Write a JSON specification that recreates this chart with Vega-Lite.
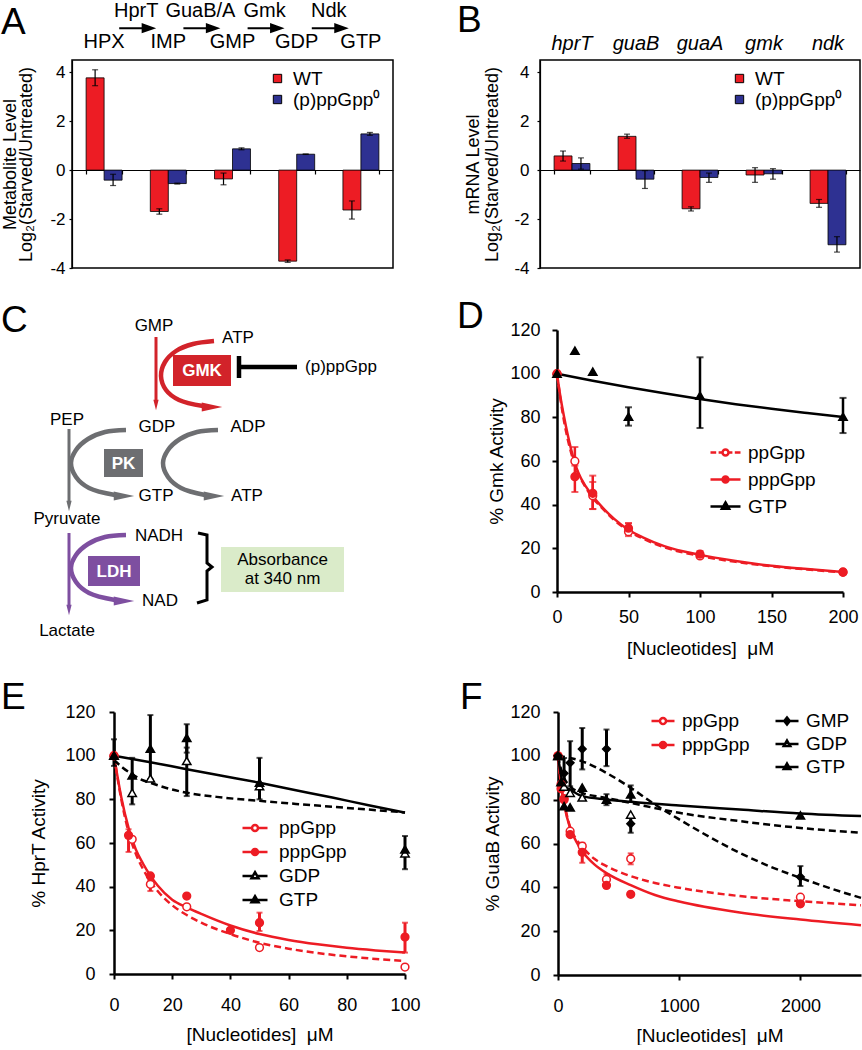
{
"$schema": "https://vega.github.io/schema/vega-lite/v6.json",
"padding": 0,
"autosize": {"type": "pad"},
"background": "#ffffff",
"config": {
  "font": "Liberation Sans",
  "view": {"stroke": null},
  "axis": {"grid": false, "domainColor": "#000", "tickColor": "#000", "labelColor": "#000", "titleColor": "#000", "titleFontWeight": "normal", "labelFontSize": 18, "titleFontSize": 19, "domainWidth": 2.5, "tickWidth": 2, "tickSize": 5, "labelPadding": 9, "titlePadding": 10, "labelFlush": false, "labelOverlap": false},
  "legend": {"labelColor": "#000", "labelFontSize": 19, "symbolOpacity": 1, "title": null},
  "title": {"color": "#000", "fontWeight": "normal", "fontSize": 37, "anchor": "start", "frame": "group", "baseline": "alphabetic"},
  "text": {"color": "#000"}
},
"datasets": {
  "metab": [
    {"cat":"HPX","strain":"WT","value":3.77,"lo":3.45,"hi":4.1},
    {"cat":"HPX","strain":"(p)ppGpp⁰","value":-0.41,"lo":-0.63,"hi":-0.17},
    {"cat":"IMP","strain":"WT","value":-1.69,"lo":-1.8,"hi":-1.58},
    {"cat":"IMP","strain":"(p)ppGpp⁰","value":-0.55,"lo":-0.57,"hi":-0.53},
    {"cat":"GMP","strain":"WT","value":-0.36,"lo":-0.6,"hi":-0.12},
    {"cat":"GMP","strain":"(p)ppGpp⁰","value":0.87,"lo":0.83,"hi":0.91},
    {"cat":"GDP","strain":"WT","value":-3.72,"lo":-3.77,"hi":-3.67},
    {"cat":"GDP","strain":"(p)ppGpp⁰","value":0.65,"lo":0.64,"hi":0.66},
    {"cat":"GTP","strain":"WT","value":-1.63,"lo":-2.0,"hi":-1.26},
    {"cat":"GTP","strain":"(p)ppGpp⁰","value":1.48,"lo":1.42,"hi":1.54}
  ],
  "enzymes": [{"enz":"HprT"},{"enz":"GuaB/A"},{"enz":"Gmk"},{"enz":"Ndk"}],
  "mrna": [
    {"gene":"hprT","strain":"WT","value":0.58,"lo":0.37,"hi":0.78},
    {"gene":"hprT","strain":"(p)ppGpp⁰","value":0.27,"lo":0.04,"hi":0.5},
    {"gene":"guaB","strain":"WT","value":1.38,"lo":1.3,"hi":1.47},
    {"gene":"guaB","strain":"(p)ppGpp⁰","value":-0.37,"lo":-0.75,"hi":-0.02},
    {"gene":"guaA","strain":"WT","value":-1.58,"lo":-1.67,"hi":-1.5},
    {"gene":"guaA","strain":"(p)ppGpp⁰","value":-0.3,"lo":-0.5,"hi":-0.12},
    {"gene":"gmk","strain":"WT","value":-0.2,"lo":-0.5,"hi":0.1},
    {"gene":"gmk","strain":"(p)ppGpp⁰","value":-0.15,"lo":-0.37,"hi":0.06},
    {"gene":"ndk","strain":"WT","value":-1.36,"lo":-1.52,"hi":-1.2},
    {"gene":"ndk","strain":"(p)ppGpp⁰","value":-3.05,"lo":-3.35,"hi":-2.72}
  ],
  "cBoxes": [
    {"grp":"GMK","x":172,"x2":230,"y":356,"y2":387},
    {"grp":"PK","x":103,"x2":142,"y":450,"y2":478},
    {"grp":"LDH","x":87,"x2":139,"y":557,"y2":587},
    {"grp":"abs","x":220,"x2":343,"y":548,"y2":593}
  ],
  "cLines": [
    {"id":"gmkDown","grp":"GMK","i":0,"x":155,"y":338},{"id":"gmkDown","grp":"GMK","i":1,"x":155,"y":401},
    {"id":"gmkCurve","grp":"GMK","i":0,"x":213,"y":342},{"id":"gmkCurve","grp":"GMK","i":1,"x":192,"y":345},{"id":"gmkCurve","grp":"GMK","i":2,"x":175,"y":352},{"id":"gmkCurve","grp":"GMK","i":3,"x":164,"y":363},{"id":"gmkCurve","grp":"GMK","i":4,"x":160,"y":377},{"id":"gmkCurve","grp":"GMK","i":5,"x":165,"y":391},{"id":"gmkCurve","grp":"GMK","i":6,"x":178,"y":401},{"id":"gmkCurve","grp":"GMK","i":7,"x":202,"y":407},
    {"id":"pepDown","grp":"PK","i":0,"x":68,"y":430},{"id":"pepDown","grp":"PK","i":1,"x":68,"y":502},
    {"id":"pkCurve1","grp":"PK","i":0,"x":125,"y":431},{"id":"pkCurve1","grp":"PK","i":1,"x":104,"y":433},{"id":"pkCurve1","grp":"PK","i":2,"x":87,"y":440},{"id":"pkCurve1","grp":"PK","i":3,"x":75,"y":451},{"id":"pkCurve1","grp":"PK","i":4,"x":70,"y":464},{"id":"pkCurve1","grp":"PK","i":5,"x":75,"y":478},{"id":"pkCurve1","grp":"PK","i":6,"x":88,"y":489},{"id":"pkCurve1","grp":"PK","i":7,"x":114,"y":496},
    {"id":"pkCurve2","grp":"PK","i":0,"x":217,"y":431},{"id":"pkCurve2","grp":"PK","i":1,"x":196,"y":433},{"id":"pkCurve2","grp":"PK","i":2,"x":179,"y":440},{"id":"pkCurve2","grp":"PK","i":3,"x":167,"y":451},{"id":"pkCurve2","grp":"PK","i":4,"x":162,"y":464},{"id":"pkCurve2","grp":"PK","i":5,"x":167,"y":478},{"id":"pkCurve2","grp":"PK","i":6,"x":180,"y":489},{"id":"pkCurve2","grp":"PK","i":7,"x":204,"y":496},
    {"id":"pyrDown","grp":"LDH","i":0,"x":68,"y":534},{"id":"pyrDown","grp":"LDH","i":1,"x":68,"y":606},
    {"id":"ldhCurve","grp":"LDH","i":0,"x":125,"y":536},{"id":"ldhCurve","grp":"LDH","i":1,"x":104,"y":538},{"id":"ldhCurve","grp":"LDH","i":2,"x":87,"y":545},{"id":"ldhCurve","grp":"LDH","i":3,"x":75,"y":556},{"id":"ldhCurve","grp":"LDH","i":4,"x":70,"y":569},{"id":"ldhCurve","grp":"LDH","i":5,"x":75,"y":583},{"id":"ldhCurve","grp":"LDH","i":6,"x":88,"y":594},{"id":"ldhCurve","grp":"LDH","i":7,"x":114,"y":601},
    {"id":"inhibLine","grp":"inh","i":0,"x":239,"y":368},{"id":"inhibLine","grp":"inh","i":1,"x":296,"y":368},
    {"id":"inhibBar","grp":"inh","i":0,"x":238,"y":357},{"id":"inhibBar","grp":"inh","i":1,"x":238,"y":379},
    {"id":"bracket","grp":"inh","i":0,"x":197,"y":534},{"id":"bracket","grp":"inh","i":1,"x":206,"y":536},{"id":"bracket","grp":"inh","i":2,"x":206,"y":564},{"id":"bracket","grp":"inh","i":3,"x":211,"y":568},{"id":"bracket","grp":"inh","i":4,"x":206,"y":572},{"id":"bracket","grp":"inh","i":5,"x":206,"y":601},{"id":"bracket","grp":"inh","i":6,"x":196,"y":604}
  ],
  "cHeads": [
    {"grp":"GMK","dir":"right","x":211,"y":408},
    {"grp":"PK","dir":"right","x":123,"y":497},
    {"grp":"PK","dir":"right","x":213,"y":497},
    {"grp":"LDH","dir":"right","x":123,"y":602},
    {"grp":"GMK","dir":"down","x":155,"y":406},
    {"grp":"PK","dir":"down","x":68,"y":507},
    {"grp":"LDH","dir":"down","x":68,"y":611}
  ],
  "cText": [
    {"label":"GMP","kind":"plain","x":153,"y":327},
    {"label":"ATP","kind":"plain","x":237,"y":339},
    {"label":"(p)ppGpp","kind":"plain","x":340,"y":368},
    {"label":"PEP","kind":"plain","x":66,"y":421},
    {"label":"GDP","kind":"plain","x":156,"y":428},
    {"label":"ADP","kind":"plain","x":247,"y":428},
    {"label":"GTP","kind":"plain","x":155,"y":497},
    {"label":"ATP","kind":"plain","x":246,"y":497},
    {"label":"Pyruvate","kind":"plain","x":66,"y":520},
    {"label":"NADH","kind":"plain","x":158,"y":537},
    {"label":"NAD","kind":"plain","x":159,"y":602},
    {"label":"Lactate","kind":"plain","x":66,"y":632},
    {"label":"Absorbance","kind":"plain","x":281.5,"y":561},
    {"label":"at 340 nm","kind":"plain","x":281.5,"y":580},
    {"label":"GMK","kind":"box","x":201,"y":372},
    {"label":"PK","kind":"box","x":122.5,"y":464.5},
    {"label":"LDH","kind":"box","x":113,"y":572.5}
  ],
  "ptsD": [
    {"series":"ppGpp","x":0,"y":100},
    {"series":"ppGpp","x":12.5,"y":59.9,"lo":57.9,"hi":66.4},
    {"series":"ppGpp","x":25,"y":44.1,"lo":38,"hi":50.4},
    {"series":"ppGpp","x":50,"y":27.6,"lo":25.6,"hi":31.5},
    {"series":"ppGpp","x":100,"y":16.5},
    {"series":"ppGpp","x":200,"y":9},
    {"series":"pppGpp","x":0,"y":100},
    {"series":"pppGpp","x":12.5,"y":52.8,"lo":45.8,"hi":59.5},
    {"series":"pppGpp","x":25,"y":45.2,"lo":38,"hi":53.3},
    {"series":"pppGpp","x":50,"y":29.2,"lo":27,"hi":31.5},
    {"series":"pppGpp","x":100,"y":17.3,"lo":15.8,"hi":18.8},
    {"series":"pppGpp","x":200,"y":9.2},
    {"series":"GTP","x":0,"y":100},
    {"series":"GTP","x":12.5,"y":110.5},
    {"series":"GTP","x":25,"y":100.9},
    {"series":"GTP","x":50,"y":80.3,"lo":76.2,"hi":84.6},
    {"series":"GTP","x":100,"y":89.9,"lo":75.1,"hi":107.5},
    {"series":"GTP","x":200,"y":80.3,"lo":72.8,"hi":88.9}
  ],
  "curvesD": [
    {"series":"ppGpp","x":0,"y":100},{"series":"ppGpp","x":2.5,"y":88},{"series":"ppGpp","x":5,"y":78},{"series":"ppGpp","x":7.5,"y":70},{"series":"ppGpp","x":10,"y":63.5},{"series":"ppGpp","x":12.5,"y":58},{"series":"ppGpp","x":15,"y":54},{"series":"ppGpp","x":20,"y":48},{"series":"ppGpp","x":25,"y":43},{"series":"ppGpp","x":30,"y":39.5},{"series":"ppGpp","x":40,"y":33},{"series":"ppGpp","x":50,"y":28},{"series":"ppGpp","x":60,"y":24.5},{"series":"ppGpp","x":75,"y":20.5},{"series":"ppGpp","x":100,"y":16.5},{"series":"ppGpp","x":125,"y":13.8},{"series":"ppGpp","x":150,"y":11.8},{"series":"ppGpp","x":175,"y":10.3},{"series":"ppGpp","x":200,"y":9},
    {"series":"pppGpp","x":0,"y":100},{"series":"pppGpp","x":2.5,"y":89},{"series":"pppGpp","x":5,"y":80},{"series":"pppGpp","x":7.5,"y":72},{"series":"pppGpp","x":10,"y":65},{"series":"pppGpp","x":12.5,"y":59},{"series":"pppGpp","x":15,"y":54.5},{"series":"pppGpp","x":20,"y":48.5},{"series":"pppGpp","x":25,"y":44},{"series":"pppGpp","x":30,"y":40},{"series":"pppGpp","x":40,"y":33.5},{"series":"pppGpp","x":50,"y":28.5},{"series":"pppGpp","x":60,"y":25},{"series":"pppGpp","x":75,"y":21},{"series":"pppGpp","x":100,"y":17},{"series":"pppGpp","x":125,"y":14.2},{"series":"pppGpp","x":150,"y":12},{"series":"pppGpp","x":175,"y":10.5},{"series":"pppGpp","x":200,"y":9.2},
    {"series":"GTP","x":0,"y":100},{"series":"GTP","x":25,"y":96.8},{"series":"GTP","x":50,"y":93.8},{"series":"GTP","x":75,"y":91},{"series":"GTP","x":100,"y":88.4},{"series":"GTP","x":125,"y":86},{"series":"GTP","x":150,"y":83.9},{"series":"GTP","x":175,"y":82},{"series":"GTP","x":200,"y":80.2}
  ],
  "ptsE": [
    {"series":"ppGpp","x":0,"y":100},
    {"series":"ppGpp","x":6.25,"y":61.7},
    {"series":"ppGpp","x":12.5,"y":41.1,"lo":38,"hi":43},
    {"series":"ppGpp","x":25,"y":30.8},
    {"series":"ppGpp","x":50,"y":12.1},
    {"series":"ppGpp","x":100,"y":3.2},
    {"series":"pppGpp","x":0,"y":100},
    {"series":"pppGpp","x":5,"y":63.5,"lo":55.9,"hi":66.3},
    {"series":"pppGpp","x":12.5,"y":44.9},
    {"series":"pppGpp","x":25,"y":35.7},
    {"series":"pppGpp","x":40,"y":20},
    {"series":"pppGpp","x":50,"y":23.5,"lo":19.7,"hi":28.1},
    {"series":"pppGpp","x":100,"y":16.9,"lo":9.8,"hi":23.5},
    {"series":"GDP","x":0,"y":100},
    {"series":"GDP","x":6.25,"y":83},
    {"series":"GDP","x":12.5,"y":89.6},
    {"series":"GDP","x":25,"y":97.6,"lo":81.5,"hi":103.7},
    {"series":"GDP","x":50,"y":86},
    {"series":"GDP","x":100,"y":55.3},
    {"series":"GTP","x":0,"y":100,"lo":95.3,"hi":107.5},
    {"series":"GTP","x":6.25,"y":91,"lo":77.7,"hi":99},
    {"series":"GTP","x":12.5,"y":103.2,"lo":89.3,"hi":118.6},
    {"series":"GTP","x":25,"y":108.2,"lo":101.4,"hi":114.4},
    {"series":"GTP","x":50,"y":87.6,"lo":80,"hi":99},
    {"series":"GTP","x":100,"y":57.1,"lo":48,"hi":63.2}
  ],
  "curvesE": [
    {"series":"ppGpp","x":0,"y":100},{"series":"ppGpp","x":2.5,"y":80},{"series":"ppGpp","x":5,"y":65},{"series":"ppGpp","x":7.5,"y":55},{"series":"ppGpp","x":10,"y":48},{"series":"ppGpp","x":12.5,"y":42.5},{"series":"ppGpp","x":15,"y":38},{"series":"ppGpp","x":20,"y":31.5},{"series":"ppGpp","x":25,"y":27},{"series":"ppGpp","x":30,"y":23.5},{"series":"ppGpp","x":40,"y":18.3},{"series":"ppGpp","x":50,"y":14.3},{"series":"ppGpp","x":60,"y":11.6},{"series":"ppGpp","x":70,"y":9.6},{"series":"ppGpp","x":80,"y":8.1},{"series":"ppGpp","x":90,"y":6.9},{"series":"ppGpp","x":100,"y":6},
    {"series":"pppGpp","x":0,"y":100},{"series":"pppGpp","x":2.5,"y":81},{"series":"pppGpp","x":5,"y":67},{"series":"pppGpp","x":7.5,"y":57},{"series":"pppGpp","x":10,"y":50.5},{"series":"pppGpp","x":12.5,"y":45},{"series":"pppGpp","x":15,"y":40.5},{"series":"pppGpp","x":20,"y":34},{"series":"pppGpp","x":25,"y":30.5},{"series":"pppGpp","x":30,"y":27.5},{"series":"pppGpp","x":40,"y":22.2},{"series":"pppGpp","x":50,"y":18.3},{"series":"pppGpp","x":60,"y":15.6},{"series":"pppGpp","x":70,"y":13.6},{"series":"pppGpp","x":80,"y":12},{"series":"pppGpp","x":90,"y":10.8},{"series":"pppGpp","x":100,"y":9.8},
    {"series":"GDP","x":0,"y":98},{"series":"GDP","x":3,"y":94.5},{"series":"GDP","x":6.25,"y":91.5},{"series":"GDP","x":9,"y":89.3},{"series":"GDP","x":12.5,"y":87.6},{"series":"GDP","x":18,"y":85.2},{"series":"GDP","x":25,"y":83},{"series":"GDP","x":37.5,"y":80.8},{"series":"GDP","x":50,"y":79.3},{"series":"GDP","x":62.5,"y":77.9},{"series":"GDP","x":75,"y":76.6},{"series":"GDP","x":87.5,"y":75.3},{"series":"GDP","x":100,"y":74},
    {"series":"GTP","x":0,"y":100},{"series":"GTP","x":12.5,"y":97},{"series":"GTP","x":25,"y":93.8},{"series":"GTP","x":37.5,"y":90.7},{"series":"GTP","x":50,"y":87.6},{"series":"GTP","x":62.5,"y":84.2},{"series":"GTP","x":75,"y":80.8},{"series":"GTP","x":87.5,"y":77.3},{"series":"GTP","x":100,"y":73.9}
  ],
  "ptsF": [
    {"series":"ppGpp","x":0,"y":100},
    {"series":"ppGpp","x":25,"y":87},
    {"series":"ppGpp","x":50,"y":80.5},
    {"series":"ppGpp","x":100,"y":65.6},
    {"series":"ppGpp","x":200,"y":58.8},
    {"series":"ppGpp","x":400,"y":43.6,"lo":40,"hi":46},
    {"series":"ppGpp","x":600,"y":53,"lo":50.5,"hi":55.5},
    {"series":"ppGpp","x":2000,"y":35.5},
    {"series":"pppGpp","x":0,"y":100},
    {"series":"pppGpp","x":25,"y":85},
    {"series":"pppGpp","x":50,"y":80},
    {"series":"pppGpp","x":100,"y":64.1},
    {"series":"pppGpp","x":200,"y":56,"lo":51.2,"hi":60.3},
    {"series":"pppGpp","x":400,"y":40.9},
    {"series":"pppGpp","x":600,"y":36.8},
    {"series":"pppGpp","x":2000,"y":32.5},
    {"series":"GMP","x":0,"y":100},
    {"series":"GMP","x":50,"y":92,"lo":86,"hi":99},
    {"series":"GMP","x":100,"y":96.8,"lo":86.1,"hi":106.7},
    {"series":"GMP","x":200,"y":103.1,"lo":93.8,"hi":112.7},
    {"series":"GMP","x":400,"y":103.1,"lo":95.3,"hi":112},
    {"series":"GMP","x":600,"y":69,"lo":64.9,"hi":71.7},
    {"series":"GMP","x":2000,"y":44.7,"lo":40.6,"hi":49.7},
    {"series":"GDP","x":0,"y":100},
    {"series":"GDP","x":50,"y":86},
    {"series":"GDP","x":100,"y":83.1},
    {"series":"GDP","x":200,"y":81},
    {"series":"GDP","x":600,"y":73.2},
    {"series":"GTP","x":0,"y":100},
    {"series":"GTP","x":25,"y":88},
    {"series":"GTP","x":50,"y":77},
    {"series":"GTP","x":100,"y":76.5},
    {"series":"GTP","x":200,"y":85.5},
    {"series":"GTP","x":400,"y":80,"lo":77.5,"hi":82.5},
    {"series":"GTP","x":600,"y":82.4,"lo":79,"hi":86.5},
    {"series":"GTP","x":2000,"y":72.8}
  ],
  "curvesF": [
    {"series":"ppGpp","x":0,"y":100},{"series":"ppGpp","x":25,"y":87},{"series":"ppGpp","x":50,"y":79},{"series":"ppGpp","x":100,"y":67.5},{"series":"ppGpp","x":150,"y":62},{"series":"ppGpp","x":200,"y":58.5},{"series":"ppGpp","x":300,"y":53},{"series":"ppGpp","x":400,"y":49.7},{"series":"ppGpp","x":600,"y":45.1},{"series":"ppGpp","x":800,"y":42},{"series":"ppGpp","x":1000,"y":39.8},{"series":"ppGpp","x":1500,"y":36},{"series":"ppGpp","x":2000,"y":33.7},{"series":"ppGpp","x":2500,"y":31.8},
    {"series":"pppGpp","x":0,"y":100},{"series":"pppGpp","x":25,"y":86.5},{"series":"pppGpp","x":50,"y":78},{"series":"pppGpp","x":100,"y":67},{"series":"pppGpp","x":150,"y":61},{"series":"pppGpp","x":200,"y":56.5},{"series":"pppGpp","x":300,"y":50.5},{"series":"pppGpp","x":400,"y":46.5},{"series":"pppGpp","x":600,"y":41},{"series":"pppGpp","x":800,"y":36.5},{"series":"pppGpp","x":1000,"y":33.5},{"series":"pppGpp","x":1500,"y":28.5},{"series":"pppGpp","x":2000,"y":25.3},{"series":"pppGpp","x":2500,"y":22.7},
    {"series":"GMP","x":0,"y":100},{"series":"GMP","x":200,"y":97.5},{"series":"GMP","x":400,"y":92.2},{"series":"GMP","x":600,"y":85.4},{"series":"GMP","x":800,"y":77.8},{"series":"GMP","x":1000,"y":71},{"series":"GMP","x":1250,"y":63},{"series":"GMP","x":1500,"y":55.7},{"series":"GMP","x":1750,"y":49.5},{"series":"GMP","x":2000,"y":44.3},{"series":"GMP","x":2250,"y":39.5},{"series":"GMP","x":2500,"y":35.2},
    {"series":"GDP","x":0,"y":100},{"series":"GDP","x":25,"y":94},{"series":"GDP","x":50,"y":90},{"series":"GDP","x":100,"y":86.1},{"series":"GDP","x":200,"y":83.1},{"series":"GDP","x":400,"y":80.8},{"series":"GDP","x":600,"y":78.5},{"series":"GDP","x":1000,"y":74},{"series":"GDP","x":1500,"y":70.2},{"series":"GDP","x":2000,"y":67.1},{"series":"GDP","x":2500,"y":64.9},
    {"series":"GTP","x":0,"y":100},{"series":"GTP","x":25,"y":91},{"series":"GTP","x":50,"y":86},{"series":"GTP","x":100,"y":84.6},{"series":"GTP","x":200,"y":81.6},{"series":"GTP","x":400,"y":80.1},{"series":"GTP","x":600,"y":79},{"series":"GTP","x":1000,"y":77.3},{"series":"GTP","x":1500,"y":75.5},{"series":"GTP","x":2000,"y":73.7},{"series":"GTP","x":2500,"y":72.5}
  ]
},
"concat": [
  {
    "hconcat": [
      {
        "width": 321, "height": 208,
        "view": {"stroke": "#000", "strokeWidth": 1.5},
        "title": {"text": "A", "dx": -71, "offset": -41},
        "layer": [
          {
            "data": {"name": "metab"},
            "layer": [
              {
                "mark": {"type": "bar", "stroke": "#000", "strokeWidth": 0.8},
                "encoding": {
                  "x": {"field": "cat", "type": "nominal", "scale": {"domain": ["HPX","IMP","GMP","GDP","GTP"], "paddingInner": 0.44, "paddingOuter": 0.22}, "axis": {"labels": false, "title": null, "offset": -98, "tickBand": "extent", "domainWidth": 1.2, "tickWidth": 1.2, "tickSize": 4}},
                  "xOffset": {"field": "strain", "type": "nominal", "scale": {"domain": ["WT","(p)ppGpp⁰"], "paddingInner": 0, "paddingOuter": 0}},
                  "y": {"field": "value", "type": "quantitative", "scale": {"domain": [-4, 4.5], "nice": false, "zero": false}, "axis": {"values": [-4,-3,-2,-1,0,1,2,3,4], "labelExpr": "'' + datum.value", "title": ["Metabolite Level", "Log₂(Starved/Untreated)"], "titleFontSize": 18, "titleLineHeight": 16, "labelFontSize": 17, "tickSize": 3, "tickWidth": 1.2, "domainWidth": 1.2, "labelPadding": 4, "titlePadding": 14}},
                  "fill": {"field": "strain", "type": "nominal", "scale": {"domain": ["WT","(p)ppGpp⁰"], "range": ["#ED1C24","#2E3192"]}, "legend": {"orient": "none", "legendX": 196, "legendY": 9, "symbolType": "square", "symbolSize": 70, "symbolStrokeColor": "#000", "symbolStrokeWidth": 1, "labelFontSize": 19, "rowPadding": 1, "labelOffset": 6}}
                }
              },
              {
                "mark": {"type": "rule", "strokeWidth": 1.2, "color": "#000"},
                "encoding": {"x": {"field": "cat", "type": "nominal"}, "xOffset": {"field": "strain", "type": "nominal"}, "y": {"field": "lo", "type": "quantitative"}, "y2": {"field": "hi"}}
              },
              {
                "mark": {"type": "tick", "thickness": 1.2, "size": 6, "color": "#000"},
                "encoding": {"x": {"field": "cat", "type": "nominal"}, "xOffset": {"field": "strain", "type": "nominal"}, "y": {"field": "lo", "type": "quantitative"}}
              },
              {
                "mark": {"type": "tick", "thickness": 1.2, "size": 6, "color": "#000"},
                "encoding": {"x": {"field": "cat", "type": "nominal"}, "xOffset": {"field": "strain", "type": "nominal"}, "y": {"field": "hi", "type": "quantitative"}}
              },
              {
                "transform": [{"filter": "datum.strain == 'WT'"}],
                "mark": {"type": "text", "fontSize": 20, "baseline": "middle"},
                "encoding": {"x": {"field": "cat", "type": "nominal"}, "y": {"datum": 5.23, "type": "quantitative"}, "text": {"field": "cat"}}
              }
            ]
          },
          {
            "data": {"name": "enzymes"},
            "layer": [
              {
                "mark": {"type": "text", "fontSize": 20, "baseline": "middle"},
                "encoding": {"x": {"field": "enz", "type": "nominal", "sort": null, "scale": {"type": "point", "padding": 1}, "axis": null}, "y": {"datum": 6.5, "type": "quantitative"}, "text": {"field": "enz"}}
              },
              {
                "mark": {"type": "point", "shape": "M-1,0H0.45M0.38,-0.22L1,0L0.38,0.22Z", "size": 1156, "filled": true, "color": "#000", "stroke": "#000", "strokeWidth": 2, "opacity": 1},
                "encoding": {"x": {"field": "enz", "type": "nominal", "sort": null}, "y": {"datum": 5.8, "type": "quantitative"}}
              }
            ]
          }
        ],
        "resolve": {"scale": {"x": "independent"}}
      },
      {
        "width": 320, "height": 208,
        "view": {"stroke": "#000", "strokeWidth": 1.5},
        "title": {"text": "B", "dx": -83, "offset": -6},
        "data": {"name": "mrna"},
        "layer": [
          {
            "mark": {"type": "bar", "stroke": "#000", "strokeWidth": 0.8},
            "encoding": {
              "x": {"field": "gene", "type": "nominal", "scale": {"domain": ["hprT","guaB","guaA","gmk","ndk"], "paddingInner": 0.44, "paddingOuter": 0.22}, "axis": {"labels": false, "title": null, "offset": -98, "tickBand": "extent", "domainWidth": 1.2, "tickWidth": 1.2, "tickSize": 4}},
              "xOffset": {"field": "strain", "type": "nominal", "scale": {"domain": ["WT","(p)ppGpp⁰"], "paddingInner": 0, "paddingOuter": 0}},
              "y": {"field": "value", "type": "quantitative", "scale": {"domain": [-4, 4.5], "nice": false, "zero": false}, "axis": {"values": [-4,-3,-2,-1,0,1,2,3,4], "labelExpr": "'' + datum.value", "title": ["mRNA Level", "Log₂(Starved/Untreated)"], "titleFontSize": 18, "titleLineHeight": 19, "labelFontSize": 17, "tickSize": 3, "tickWidth": 1.2, "domainWidth": 1.2, "labelPadding": 8, "titlePadding": 12}},
              "fill": {"field": "strain", "type": "nominal", "scale": {"domain": ["WT","(p)ppGpp⁰"], "range": ["#ED1C24","#2E3192"]}, "legend": {"orient": "none", "legendX": 190, "legendY": 9, "symbolType": "square", "symbolSize": 70, "symbolStrokeColor": "#000", "symbolStrokeWidth": 1, "labelFontSize": 19, "rowPadding": 1, "labelOffset": 6}}
            }
          },
          {
            "mark": {"type": "rule", "strokeWidth": 1.2, "color": "#000"},
            "encoding": {"x": {"field": "gene", "type": "nominal"}, "xOffset": {"field": "strain", "type": "nominal"}, "y": {"field": "lo", "type": "quantitative"}, "y2": {"field": "hi"}}
          },
          {
            "mark": {"type": "tick", "thickness": 1.2, "size": 6, "color": "#000"},
            "encoding": {"x": {"field": "gene", "type": "nominal"}, "xOffset": {"field": "strain", "type": "nominal"}, "y": {"field": "lo", "type": "quantitative"}}
          },
          {
            "mark": {"type": "tick", "thickness": 1.2, "size": 6, "color": "#000"},
            "encoding": {"x": {"field": "gene", "type": "nominal"}, "xOffset": {"field": "strain", "type": "nominal"}, "y": {"field": "hi", "type": "quantitative"}}
          },
          {
            "transform": [{"filter": "datum.strain == 'WT'"}],
            "mark": {"type": "text", "fontSize": 20, "fontStyle": "italic", "baseline": "middle"},
            "encoding": {"x": {"field": "gene", "type": "nominal"}, "y": {"datum": 5.15, "type": "quantitative"}, "text": {"field": "gene"}}
          }
        ]
      }
    ],
    "spacing": 147,
    "bounds": "flush",
    "resolve": {"scale": {"color":"independent","fill":"independent","stroke":"independent","shape":"independent","strokeDash":"independent","fillOpacity":"independent","xOffset":"independent"}, "legend": {"color":"independent","fill":"independent","stroke":"independent","shape":"independent","strokeDash":"independent","fillOpacity":"independent"}}
  },
  {
    "hconcat": [
      {
        "width": 330, "height": 323,
        "title": {"text": "C", "dx": -71, "offset": -23},
        "encoding": {
          "x": {"field": "x", "type": "quantitative", "scale": {"domain": [71, 401], "nice": false, "zero": false}, "axis": null},
          "y": {"field": "y", "type": "quantitative", "scale": {"domain": [331, 654], "nice": false, "zero": false, "reverse": true}, "axis": null}
        },
        "layer": [
          {
            "data": {"name": "cBoxes"},
            "mark": {"type": "rect"},
            "encoding": {"x2": {"field": "x2"}, "y2": {"field": "y2"}, "color": {"field": "grp", "type": "nominal", "scale": {"domain": ["GMK","PK","LDH","inh","abs"], "range": ["#D2232A","#6D6E71","#7E4FA0","#000000","#DAEBC9"]}, "legend": null}}
          },
          {
            "data": {"name": "cLines"},
            "transform": [{"filter": {"field": "id", "oneOf": ["gmkCurve","pkCurve1","pkCurve2","ldhCurve"]}}],
            "mark": {"type": "line", "strokeWidth": 4.5, "interpolate": "catmull-rom"},
            "encoding": {"color": {"field": "grp", "type": "nominal", "legend": null}, "detail": {"field": "id"}, "order": {"field": "i", "type": "quantitative"}}
          },
          {
            "data": {"name": "cLines"},
            "transform": [{"filter": {"field": "id", "oneOf": ["gmkDown","pepDown","pyrDown"]}}],
            "mark": {"type": "line", "strokeWidth": 3},
            "encoding": {"color": {"field": "grp", "type": "nominal", "legend": null}, "detail": {"field": "id"}, "order": {"field": "i", "type": "quantitative"}}
          },
          {
            "data": {"name": "cLines"},
            "transform": [{"filter": {"field": "id", "oneOf": ["inhibLine","inhibBar"]}}],
            "mark": {"type": "line", "strokeWidth": 4.5},
            "encoding": {"color": {"field": "grp", "type": "nominal", "legend": null}, "detail": {"field": "id"}, "order": {"field": "i", "type": "quantitative"}}
          },
          {
            "data": {"name": "cLines"},
            "transform": [{"filter": {"field": "id", "oneOf": ["bracket"]}}],
            "mark": {"type": "line", "strokeWidth": 3},
            "encoding": {"color": {"field": "grp", "type": "nominal", "legend": null}, "detail": {"field": "id"}, "order": {"field": "i", "type": "quantitative"}}
          },
          {
            "data": {"name": "cHeads"},
            "transform": [{"filter": "datum.dir == 'right'"}],
            "mark": {"type": "point", "shape": "M-1,-0.45L1,0L-1,0.45Z", "size": 420, "filled": true, "opacity": 1},
            "encoding": {"color": {"field": "grp", "type": "nominal", "legend": null}}
          },
          {
            "data": {"name": "cHeads"},
            "transform": [{"filter": "datum.dir == 'down'"}],
            "mark": {"type": "point", "shape": "M-0.5,-1H0.5L0,1Z", "size": 110, "filled": true, "opacity": 1},
            "encoding": {"color": {"field": "grp", "type": "nominal", "legend": null}}
          },
          {
            "data": {"name": "cText"},
            "transform": [{"filter": "datum.kind == 'plain'"}],
            "mark": {"type": "text", "fontSize": 17, "baseline": "middle", "align": "center", "color": "#000"},
            "encoding": {"text": {"field": "label"}}
          },
          {
            "data": {"name": "cText"},
            "transform": [{"filter": "datum.kind == 'box'"}],
            "mark": {"type": "text", "fontSize": 17, "fontWeight": "bold", "baseline": "middle", "align": "center", "color": "#ffffff"},
            "encoding": {"text": {"field": "label"}}
          }
        ]
      },
      {
        "width": 286, "height": 262,
        "title": {"text": "D", "dx": -100, "offset": -15},
        "encoding": {
          "x": {"field": "x", "type": "quantitative", "scale": {"domain": [0, 200], "nice": false}, "axis": {"values": [0,50,100,150,200], "title": "[Nucleotides]\u00a0 μM", "labelPadding": 11, "titlePadding": 13}},
          "y": {"field": "y", "type": "quantitative", "scale": {"domain": [0, 120], "nice": false}, "axis": {"values": [0,20,40,60,80,100,120], "title": "% Gmk Activity", "titlePadding": 3, "labelPadding": 12}}
        },
        "layer": [
          {
            "data": {"name": "curvesD"},
            "transform": [{"filter": {"field": "series", "oneOf": ["pppGpp","GTP"]}}],
            "mark": {"type": "line", "strokeWidth": 2.5, "interpolate": "monotone"},
            "encoding": {"color": {"field": "series", "type": "nominal", "scale": {"domain": ["ppGpp","pppGpp","GTP"], "range": ["#ED1C24","#ED1C24","#000000"]}, "legend": {"orient": "none", "legendX": 152, "legendY": 106, "symbolSize": 900, "symbolStrokeWidth": 2.5, "rowPadding": -1, "labelOffset": 6}}}
          },
          {
            "data": {"name": "curvesD"},
            "transform": [{"filter": {"field": "series", "oneOf": ["ppGpp"]}}],
            "mark": {"type": "line", "strokeWidth": 2.5, "interpolate": "monotone", "strokeDash": [7, 4]},
            "encoding": {"color": {"field": "series", "type": "nominal", "scale": {"domain": ["ppGpp","pppGpp","GTP"], "range": ["#ED1C24","#ED1C24","#000000"]}, "legend": {"orient": "none", "legendX": 152, "legendY": 106, "symbolSize": 900, "symbolStrokeWidth": 2.5, "rowPadding": -1, "labelOffset": 6}}}
          },
          {
            "data": {"name": "ptsD"},
            "transform": [{"filter": "isValid(datum.lo) && datum.series != 'GTP'"}],
            "mark": {"type": "errorbar", "color": "#ED1C24", "thickness": 2.5, "ticks": {"size": 7, "thickness": 2}},
            "encoding": {"y": {"field": "lo", "type": "quantitative"}, "y2": {"field": "hi"}}
          },
          {
            "data": {"name": "ptsD"},
            "transform": [{"filter": "isValid(datum.lo) && datum.series == 'GTP'"}],
            "mark": {"type": "errorbar", "color": "#000000", "thickness": 2.5, "ticks": {"size": 7, "thickness": 2}},
            "encoding": {"y": {"field": "lo", "type": "quantitative"}, "y2": {"field": "hi"}}
          },
          {
            "data": {"name": "ptsD"},
            "transform": [{"filter": {"field": "series", "oneOf": ["ppGpp","pppGpp"]}}],
            "mark": {"type": "point", "shape": "circle", "size": 60, "stroke": "#ED1C24", "strokeWidth": 1.5, "opacity": 1},
            "encoding": {"fill": {"field": "series", "type": "nominal", "scale": {"domain": ["ppGpp","pppGpp","GTP"], "range": ["#ffffff","#ED1C24","#000000"]}, "legend": {"orient": "none", "legendX": 152, "legendY": 106, "symbolSize": 900, "symbolStrokeWidth": 2.5, "rowPadding": -1, "labelOffset": 6}}}
          },
          {
            "data": {"name": "ptsD"},
            "transform": [{"filter": {"field": "series", "oneOf": ["GTP"]}}],
            "mark": {"type": "point", "shape": "triangle-up", "size": 70, "stroke": "#000", "strokeWidth": 1.5, "opacity": 1},
            "encoding": {"fill": {"field": "series", "type": "nominal", "scale": {"domain": ["ppGpp","pppGpp","GTP"], "range": ["#ffffff","#ED1C24","#000000"]}, "legend": {"orient": "none", "legendX": 152, "legendY": 106, "symbolSize": 900, "symbolStrokeWidth": 2.5, "rowPadding": -1, "labelOffset": 6}}}
          },
          {
            "data": {"name": "ptsD"},
            "mark": {"type": "point", "opacity": 0},
            "encoding": {"shape": {"field": "series", "type": "nominal", "scale": {"domain": ["ppGpp","pppGpp","GTP"], "range": ["M-1,0H-0.62M-0.46,0H-0.2M0.2,0H0.46M0.62,0H1M0.2,0A0.2,0.2,0,1,1,-0.2,0A0.2,0.2,0,1,1,0.2,0Z", "M-1,0H1M0.2,0A0.2,0.2,0,1,1,-0.2,0A0.2,0.2,0,1,1,0.2,0Z", "M-1,0H1M0,-0.27L0.24,0.15L-0.24,0.15Z"]}, "legend": {"orient": "none", "legendX": 152, "legendY": 106, "symbolSize": 900, "symbolStrokeWidth": 2.5, "rowPadding": -1, "labelOffset": 6}}}
          }
        ]
      }
    ],
    "spacing": 155,
    "bounds": "flush",
    "resolve": {"scale": {"color":"independent","fill":"independent","stroke":"independent","shape":"independent","strokeDash":"independent","fillOpacity":"independent","xOffset":"independent"}, "legend": {"color":"independent","fill":"independent","stroke":"independent","shape":"independent","strokeDash":"independent","fillOpacity":"independent"}}
  },
  {
    "hconcat": [
      {
        "width": 333, "height": 262,
        "title": {"text": "E", "dx": -71, "offset": -14},
        "encoding": {
          "x": {"field": "x", "type": "quantitative", "scale": {"domain": [0, 100], "range": [42, 333], "nice": false}, "axis": {"values": [0,20,40,60,80,100], "title": "[Nucleotides]\u00a0 μM", "labelPadding": 17, "titlePadding": 11}},
          "y": {"field": "y", "type": "quantitative", "scale": {"domain": [0, 120], "nice": false}, "axis": {"values": [0,20,40,60,80,100,120], "title": "% HprT Activity", "titlePadding": 16, "labelPadding": 14, "offset": -42}}
        },
        "layer": [
          {
            "data": {"name": "curvesE"},
            "transform": [{"filter": {"field": "series", "oneOf": ["pppGpp","GTP"]}}],
            "mark": {"type": "line", "strokeWidth": 2.5, "interpolate": "monotone"},
            "encoding": {"color": {"field": "series", "type": "nominal", "scale": {"domain": ["ppGpp","pppGpp","GDP","GTP"], "range": ["#ED1C24","#ED1C24","#000000","#000000"]}, "legend": {"orient": "none", "legendX": 169, "legendY": 102, "symbolSize": 625, "symbolStrokeWidth": 2.5, "rowPadding": -6, "labelOffset": 10}}}
          },
          {
            "data": {"name": "curvesE"},
            "transform": [{"filter": {"field": "series", "oneOf": ["ppGpp","GDP"]}}],
            "mark": {"type": "line", "strokeWidth": 2.5, "interpolate": "monotone", "strokeDash": [7, 4]},
            "encoding": {"color": {"field": "series", "type": "nominal", "scale": {"domain": ["ppGpp","pppGpp","GDP","GTP"], "range": ["#ED1C24","#ED1C24","#000000","#000000"]}, "legend": {"orient": "none", "legendX": 169, "legendY": 102, "symbolSize": 625, "symbolStrokeWidth": 2.5, "rowPadding": -6, "labelOffset": 10}}}
          },
          {
            "data": {"name": "ptsE"},
            "transform": [{"filter": "isValid(datum.lo) && (datum.series == 'ppGpp' || datum.series == 'pppGpp')"}],
            "mark": {"type": "errorbar", "color": "#ED1C24", "thickness": 3, "ticks": {"size": 6, "thickness": 2}},
            "encoding": {"y": {"field": "lo", "type": "quantitative"}, "y2": {"field": "hi"}}
          },
          {
            "data": {"name": "ptsE"},
            "transform": [{"filter": "isValid(datum.lo) && (datum.series == 'GDP' || datum.series == 'GTP')"}],
            "mark": {"type": "errorbar", "color": "#000000", "thickness": 3, "ticks": {"size": 6, "thickness": 2}},
            "encoding": {"y": {"field": "lo", "type": "quantitative"}, "y2": {"field": "hi"}}
          },
          {
            "data": {"name": "ptsE"},
            "transform": [{"filter": {"field": "series", "oneOf": ["ppGpp","pppGpp"]}}],
            "mark": {"type": "point", "shape": "circle", "size": 60, "stroke": "#ED1C24", "strokeWidth": 1.5, "opacity": 1},
            "encoding": {"fill": {"field": "series", "type": "nominal", "scale": {"domain": ["ppGpp","pppGpp","GDP","GTP"], "range": ["#ffffff","#ED1C24","#ffffff","#000000"]}, "legend": {"orient": "none", "legendX": 169, "legendY": 102, "symbolSize": 625, "symbolStrokeWidth": 2.5, "rowPadding": -6, "labelOffset": 10}}}
          },
          {
            "data": {"name": "ptsE"},
            "transform": [{"filter": {"field": "series", "oneOf": ["GDP","GTP"]}}],
            "mark": {"type": "point", "shape": "triangle-up", "size": 70, "stroke": "#000", "strokeWidth": 1.5, "opacity": 1},
            "encoding": {"fill": {"field": "series", "type": "nominal", "scale": {"domain": ["ppGpp","pppGpp","GDP","GTP"], "range": ["#ffffff","#ED1C24","#ffffff","#000000"]}, "legend": {"orient": "none", "legendX": 169, "legendY": 102, "symbolSize": 625, "symbolStrokeWidth": 2.5, "rowPadding": -6, "labelOffset": 10}}}
          },
          {
            "data": {"name": "ptsE"},
            "mark": {"type": "point", "opacity": 0},
            "encoding": {"shape": {"field": "series", "type": "nominal", "scale": {"domain": ["ppGpp","pppGpp","GDP","GTP"], "range": ["M-1,0H-0.24M0.24,0H1M0.24,0A0.24,0.24,0,1,1,-0.24,0A0.24,0.24,0,1,1,0.24,0Z", "M-1,0H1M0.24,0A0.24,0.24,0,1,1,-0.24,0A0.24,0.24,0,1,1,0.24,0Z", "M-1,0H-0.17M0.17,0H1M0,-0.3L0.28,0.18L-0.28,0.18Z", "M-1,0H1M0,-0.3L0.28,0.18L-0.28,0.18Z"]}, "legend": {"orient": "none", "legendX": 169, "legendY": 102, "symbolSize": 625, "symbolStrokeWidth": 2.5, "rowPadding": -6, "labelOffset": 10}}}
          }
        ]
      },
      {
        "width": 303, "height": 263,
        "title": {"text": "F", "dx": -98, "offset": -14},
        "encoding": {
          "x": {"field": "x", "type": "quantitative", "scale": {"domain": [0, 2500], "nice": false}, "axis": {"values": [0,1000,2000], "format": "d", "title": "[Nucleotides]\u00a0 μM", "labelPadding": 17, "titlePadding": 11}},
          "y": {"field": "y", "type": "quantitative", "scale": {"domain": [0, 120], "nice": false}, "axis": {"values": [0,20,40,60,80,100,120], "title": "% GuaB Activity", "titlePadding": 7, "labelPadding": 13}}
        },
        "layer": [
          {
            "data": {"name": "curvesF"},
            "transform": [{"filter": {"field": "series", "oneOf": ["pppGpp"]}}],
            "mark": {"type": "line", "strokeWidth": 2.5, "interpolate": "monotone", "color": "#ED1C24"}
          },
          {
            "data": {"name": "curvesF"},
            "transform": [{"filter": {"field": "series", "oneOf": ["ppGpp"]}}],
            "mark": {"type": "line", "strokeWidth": 2.5, "interpolate": "monotone", "color": "#ED1C24", "strokeDash": [7, 4]}
          },
          {
            "data": {"name": "curvesF"},
            "transform": [{"filter": {"field": "series", "oneOf": ["GTP"]}}],
            "mark": {"type": "line", "strokeWidth": 2.5, "interpolate": "monotone", "color": "#000"}
          },
          {
            "data": {"name": "curvesF"},
            "transform": [{"filter": {"field": "series", "oneOf": ["GMP","GDP"]}}],
            "mark": {"type": "line", "strokeWidth": 2.5, "interpolate": "monotone", "color": "#000", "strokeDash": [7, 4]},
            "encoding": {"detail": {"field": "series"}}
          },
          {
            "data": {"name": "ptsF"},
            "transform": [{"filter": "isValid(datum.lo) && (datum.series == 'ppGpp' || datum.series == 'pppGpp')"}],
            "mark": {"type": "errorbar", "color": "#ED1C24", "thickness": 3, "ticks": {"size": 6, "thickness": 2}},
            "encoding": {"y": {"field": "lo", "type": "quantitative"}, "y2": {"field": "hi"}}
          },
          {
            "data": {"name": "ptsF"},
            "transform": [{"filter": "isValid(datum.lo) && datum.series != 'ppGpp' && datum.series != 'pppGpp'"}],
            "mark": {"type": "errorbar", "color": "#000000", "thickness": 3, "ticks": {"size": 6, "thickness": 2}},
            "encoding": {"y": {"field": "lo", "type": "quantitative"}, "y2": {"field": "hi"}}
          },
          {
            "data": {"name": "ptsF"},
            "transform": [{"filter": {"field": "series", "oneOf": ["ppGpp"]}}],
            "mark": {"type": "point", "shape": "circle", "size": 60, "stroke": "#ED1C24", "fill": "#ffffff", "strokeWidth": 1.5, "opacity": 1}
          },
          {
            "data": {"name": "ptsF"},
            "transform": [{"filter": {"field": "series", "oneOf": ["pppGpp"]}}],
            "mark": {"type": "point", "shape": "circle", "size": 60, "stroke": "#ED1C24", "fill": "#ED1C24", "strokeWidth": 1.5, "opacity": 1}
          },
          {
            "data": {"name": "ptsF"},
            "transform": [{"filter": {"field": "series", "oneOf": ["GMP"]}}],
            "mark": {"type": "point", "shape": "diamond", "size": 60, "stroke": "#000", "fill": "#000", "strokeWidth": 1.5, "opacity": 1}
          },
          {
            "data": {"name": "ptsF"},
            "transform": [{"filter": {"field": "series", "oneOf": ["GDP"]}}],
            "mark": {"type": "point", "shape": "triangle-up", "size": 70, "stroke": "#000", "fill": "#ffffff", "strokeWidth": 1.5, "opacity": 1}
          },
          {
            "data": {"name": "ptsF"},
            "transform": [{"filter": {"field": "series", "oneOf": ["GTP"]}}],
            "mark": {"type": "point", "shape": "triangle-up", "size": 70, "stroke": "#000", "fill": "#000", "strokeWidth": 1.5, "opacity": 1}
          },
          {
            "data": {"name": "ptsF"},
            "transform": [{"filter": {"field": "series", "oneOf": ["ppGpp","pppGpp"]}}],
            "mark": {"type": "point", "opacity": 0, "color": "#ED1C24", "stroke": "#ED1C24"},
            "encoding": {"fill": {"field": "series", "type": "nominal", "scale": {"domain": ["ppGpp","pppGpp"], "range": ["#ffffff","#ED1C24"]}, "legend": {"orient": "none", "legendX": 92, "legendY": -4, "symbolType": "M-1,0H-0.26M0.26,0H1M0.26,0A0.26,0.26,0,1,1,-0.26,0A0.26,0.26,0,1,1,0.26,0Z", "symbolSize": 529, "symbolStrokeWidth": 2.5, "symbolStrokeColor": "#ED1C24", "rowPadding": 1, "labelOffset": 6}}}
          },
          {
            "data": {"name": "ptsF"},
            "transform": [{"filter": {"field": "series", "oneOf": ["GMP","GDP","GTP"]}}],
            "mark": {"type": "point", "opacity": 0, "filled": true},
            "encoding": {
              "color": {"field": "series", "type": "nominal", "scale": {"domain": ["GMP","GDP","GTP"], "range": ["#000000","#ffffff","#000000"]}, "legend": {"orient": "none", "legendX": 216, "legendY": -4, "symbolSize": 529, "symbolStrokeWidth": 2.5, "rowPadding": 0, "labelOffset": 6}},
              "stroke": {"field": "series", "type": "nominal", "scale": {"domain": ["GMP","GDP","GTP"], "range": ["#000000","#000000","#000000"]}, "legend": {"orient": "none", "legendX": 216, "legendY": -4, "symbolSize": 529, "symbolStrokeWidth": 2.5, "rowPadding": 0, "labelOffset": 6}},
              "shape": {"field": "series", "type": "nominal", "scale": {"domain": ["GMP","GDP","GTP"], "range": ["M-1,0H1M0,-0.3L0.24,0L0,0.3L-0.24,0Z", "M-1,0H-0.17M0.17,0H1M0,-0.3L0.28,0.18L-0.28,0.18Z", "M-1,0H1M0,-0.3L0.28,0.18L-0.28,0.18Z"]}, "legend": {"orient": "none", "legendX": 216, "legendY": -4, "symbolSize": 529, "symbolStrokeWidth": 2.5, "rowPadding": 0, "labelOffset": 6}}
            }
          }
        ]
      }
    ],
    "spacing": 153,
    "bounds": "flush",
    "resolve": {"scale": {"color":"independent","fill":"independent","stroke":"independent","shape":"independent","strokeDash":"independent","fillOpacity":"independent","xOffset":"independent"}, "legend": {"color":"independent","fill":"independent","stroke":"independent","shape":"independent","strokeDash":"independent","fillOpacity":"independent"}}
  }
],
"columns": 1,
"align": "none",
"spacing": 21,
"bounds": "full",
"resolve": {"scale": {"color":"independent","fill":"independent","stroke":"independent","shape":"independent","strokeDash":"independent","fillOpacity":"independent","xOffset":"independent"}, "legend": {"color":"independent","fill":"independent","stroke":"independent","shape":"independent","strokeDash":"independent","fillOpacity":"independent"}}
}
